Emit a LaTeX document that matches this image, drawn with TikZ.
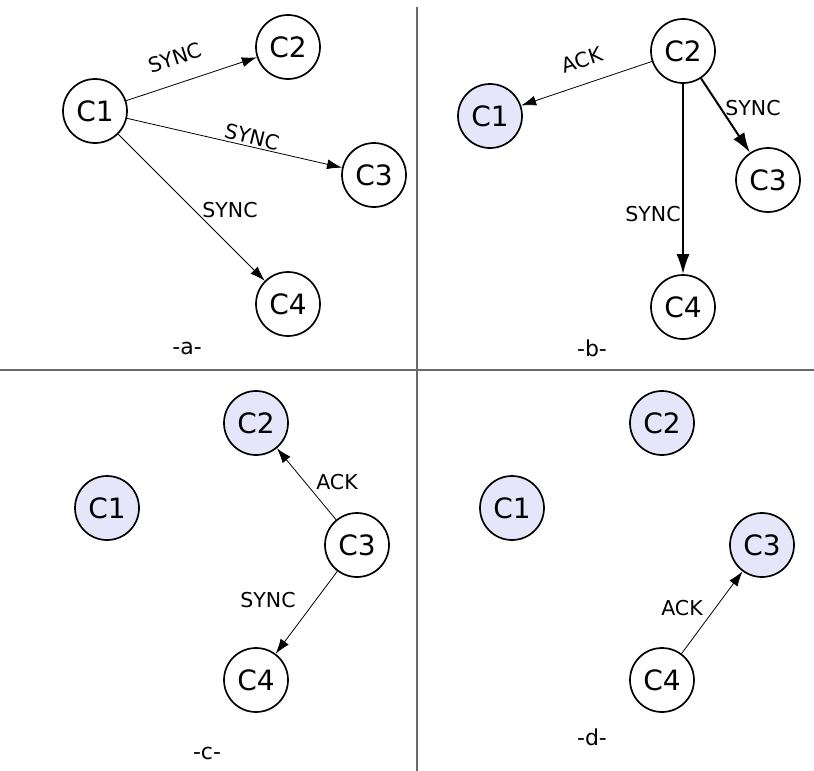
\documentclass[tikz,border=0pt]{standalone}
\usepackage{fontspec}
\setmainfont{DejaVu Sans}
\usetikzlibrary{arrows.meta}
\definecolor{lav}{RGB}{230,230,250}
\definecolor{divgray}{RGB}{105,105,105}
\tikzset{
  cnode/.style={circle, draw=black, line width=1.7pt, minimum size=64pt, inner sep=0pt, fill=white, font=\fontsize{28}{30}\selectfont},
  done/.style={cnode, fill=lav},
  thinarr/.style={line width=0.8pt, -{Latex[length=15pt,width=10pt]}},
  thickarr/.style={line width=2pt, -{Latex[length=20pt,width=13pt]}},
  lbl/.style={inner sep=0pt, font=\fontsize{20.5}{22}\selectfont},
  panelcap/.style={inner sep=0pt, font=\fontsize{22}{24}\selectfont},
  divider/.style={draw=divgray, line width=2pt}
}
\begin{document}
\begin{tikzpicture}[x=1pt,y=-1pt]
\useasboundingbox (0,0) rectangle (814,771);
% dividers
\coordinate (vt) at (416.5,7);
\coordinate (vb) at (416.5,771);
\coordinate (hl) at (0,370);
\coordinate (hr) at (814,370);
\draw[divider] (vt) -- (vb);
\draw[divider] (hl) -- (hr);
% panel a
\node[cnode] (a1) at (95,111) {C1};
\node[cnode] (a2) at (288,47) {C2};
\node[cnode] (a3) at (374,175) {C3};
\node[cnode] (a4) at (288,304) {C4};
\draw[thinarr] (a1) -- (a2);
\draw[thinarr] (a1) -- (a3);
\draw[thinarr] (a1) -- (a4);
\node[lbl, rotate=18] (la12) at (175,58) {SYNC};
\node[lbl, rotate=-14] (la13) at (252,137) {SYNC};
\node[lbl] (la14) at (230,210) {SYNC};
\node[panelcap] (capa) at (187,348) {-a-};
% panel b
\node[done] (b1) at (490,116) {C1};
\node[cnode] (b2) at (683,51) {C2};
\node[cnode] (b3) at (768,180) {C3};
\node[cnode] (b4) at (683,307) {C4};
\draw[thinarr] (b2) -- (b1);
\draw[thickarr] (b2) -- (b3);
\draw[thickarr] (b2) -- (b4);
\node[lbl, rotate=18] (lb21) at (582,60) {ACK};
\node[lbl] (lb23) at (753,108) {SYNC};
\node[lbl] (lb24) at (653,214) {SYNC};
\node[panelcap] (capb) at (592,348) {-b-};
% panel c
\node[done] (c1) at (107,508) {C1};
\node[done] (c2) at (256,423) {C2};
\node[cnode] (c3) at (357,545) {C3};
\node[cnode] (c4) at (256,680) {C4};
\draw[thinarr] (c3) -- (c2);
\draw[thinarr] (c3) -- (c4);
\node[lbl] (lc32) at (337,482) {ACK};
\node[lbl] (lc34) at (268,600) {SYNC};
\node[panelcap] (capc) at (207,753) {-c-};
% panel d
\node[done] (d1) at (512,508) {C1};
\node[done] (d2) at (662,423) {C2};
\node[done] (d3) at (762,545) {C3};
\node[cnode] (d4) at (662,680) {C4};
\draw[thinarr] (d4) -- (d3);
\node[lbl] (ld43) at (682,608) {ACK};
\node[panelcap] (capd) at (592,737) {-d-};
\end{tikzpicture}
\end{document}
